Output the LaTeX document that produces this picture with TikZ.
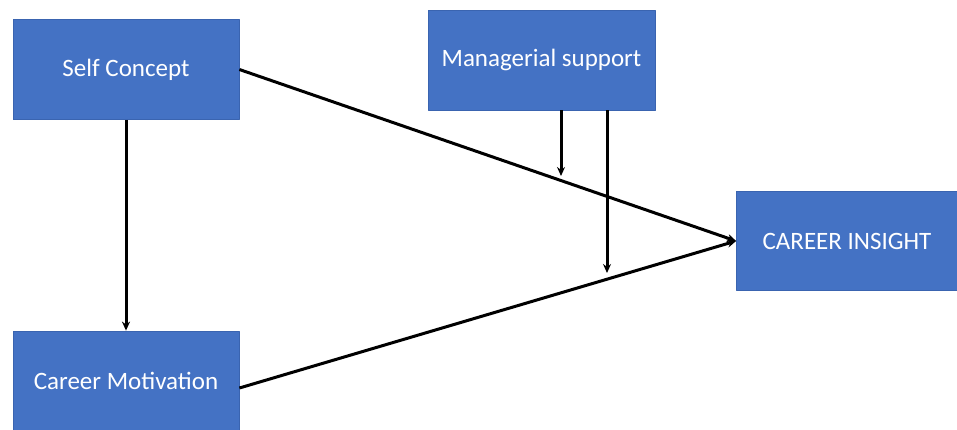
\documentclass[tikz,border=0pt]{standalone}
\usepackage{fontspec}
\setmainfont{Carlito}
\usetikzlibrary{arrows.meta}
\definecolor{boxblue}{HTML}{4472C4}
\definecolor{boxedge}{HTML}{3A64B0}
\begin{document}
\begin{tikzpicture}[x=1pt, y=-1pt, line join=round,
        bloc/.style={draw=boxedge, line width=0.8pt, fill=boxblue, text=white,
            font=\fontsize{25}{28}\selectfont, inner sep=0pt},
        fleche/.style={draw=black, line width=3pt, -{Stealth[length=9pt, width=8pt]}}]
    \useasboundingbox (0,0) rectangle (957,429);
    \node[bloc, minimum width=226pt, minimum height=100pt] (soi) at (126,69.5) {Self Concept};
    \node[bloc, minimum width=227pt, minimum height=100pt] (gestion) at (541.5,60) {Managerial support};
    \node[bloc, minimum width=221pt, minimum height=99pt] (insight) at (847,241) {CAREER INSIGHT};
    \node[bloc, minimum width=226pt, minimum height=100pt] (motiv) at (126,381) {Career Motivation};

    \coordinate (haut) at (561,176);
    \coordinate (bas) at (607,273);

    \draw[fleche] (soi.south) -- (motiv.north);
    \draw[fleche] (soi.east) -- (insight.west);
    \draw[fleche] ([yshift=-7pt]motiv.east) -- (insight.west);
    \draw[fleche] ([xshift=19.5pt]gestion.south) -- (haut);
    \draw[fleche] ([xshift=65.5pt]gestion.south) -- (bas);
\end{tikzpicture}
\end{document}
